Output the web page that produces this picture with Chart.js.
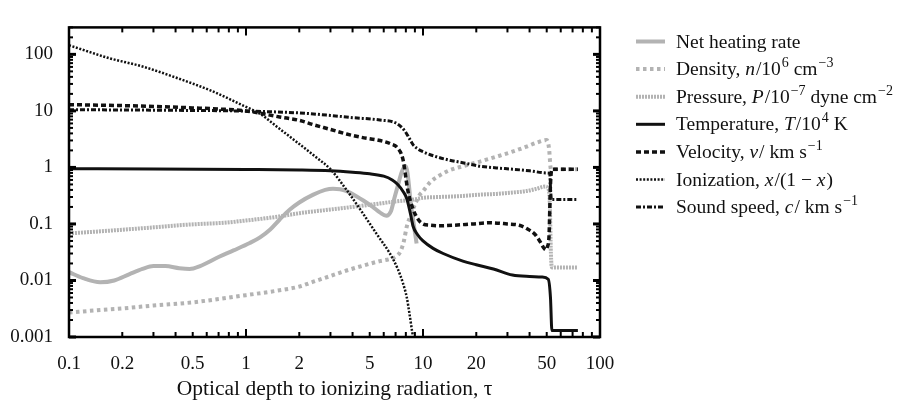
<!DOCTYPE html>
<html><head><meta charset="utf-8">
<script src="https://cdn.jsdelivr.net/npm/chart.js@4"></script>
<style>html,body{margin:0;padding:0;background:#fff;}canvas{display:block;}</style>
</head><body>
<canvas id="c" width="899" height="402"></canvas>
<script>
// ---- tick labels ----
const xTickValues = [0.1, 0.2, 0.5, 1, 2, 5, 10, 20, 50, 100];
const xTickLabels = ['0.1', '0.2', '0.5', '1', '2', '5', '10', '20', '50', '100'];
const yTickValues = [0.001, 0.01, 0.1, 1, 10, 100];
const yTickLabels = ['0.001', '0.01', '0.1', '1', '10', '100'];
const xTitle = 'Optical depth to ionizing radiation, τ';

// ---- series ----
const heatTau = [0.1, 0.12, 0.15, 0.18, 0.22, 0.26, 0.3, 0.35, 0.42, 0.48, 0.55, 0.7, 0.85, 1.05, 1.2, 1.37, 1.55, 1.77, 2.0, 2.4, 2.8, 3.1, 3.4, 3.7, 4.2, 4.6, 5.2, 5.7, 6.2, 6.6, 6.9, 7.3, 7.6, 8.0, 8.6, 9.2];
const heatVal = [0.014, 0.011, 0.0093, 0.01, 0.013, 0.016, 0.018, 0.018, 0.0165, 0.016, 0.018, 0.026, 0.034, 0.046, 0.058, 0.08, 0.12, 0.18, 0.24, 0.33, 0.4, 0.42, 0.41, 0.38, 0.31, 0.26, 0.2, 0.16, 0.14, 0.17, 0.29, 0.55, 0.85, 1.05, 0.19, 0.045];

const densTau = [0.1, 0.15, 0.2, 0.3, 0.5, 0.7, 1, 1.5, 2, 2.4, 3, 3.7, 4.5, 5.7, 6.5, 7.1, 7.5, 7.8, 8.1, 8.5, 9, 9.6, 10, 11, 12.4, 14, 16.8, 21, 26, 32, 38, 44, 50, 51.5, 52.8, 75];
const densVal = [0.0027, 0.003, 0.0032, 0.0036, 0.0041, 0.0047, 0.0055, 0.0066, 0.0078, 0.0095, 0.012, 0.015, 0.018, 0.022, 0.024, 0.027, 0.034, 0.05, 0.09, 0.14, 0.22, 0.33, 0.38, 0.55, 0.72, 0.88, 1.05, 1.27, 1.55, 1.9, 2.3, 2.75, 3.05, 2.2, 0.93, 0.93];

const presTau = [0.1, 0.15, 0.2, 0.3, 0.42, 0.55, 0.75, 1, 1.55, 2, 3, 4, 5.7, 7, 8.8, 10, 12.4, 16, 21, 26, 32, 38, 44, 49, 51, 52, 52.8, 53.5, 75];
const presVal = [0.068, 0.074, 0.079, 0.087, 0.095, 0.1, 0.105, 0.115, 0.136, 0.155, 0.18, 0.2, 0.23, 0.25, 0.27, 0.29, 0.3, 0.31, 0.33, 0.34, 0.36, 0.38, 0.42, 0.46, 0.42, 0.25, 0.03, 0.017, 0.017];

const tempTau = [0.1, 0.3, 1, 2, 3, 4, 5, 6, 6.7, 7.2, 7.7, 8.1, 8.5, 8.8, 9.3, 10, 11.4, 13, 16.8, 20, 25, 32, 40, 47, 51, 52.5, 53.5, 75];
const tempVal = [0.95, 0.94, 0.92, 0.9, 0.87, 0.82, 0.77, 0.7, 0.6, 0.5, 0.38, 0.28, 0.15, 0.09, 0.065, 0.05, 0.037, 0.03, 0.022, 0.019, 0.016, 0.0125, 0.0118, 0.0115, 0.0105, 0.005, 0.0013, 0.0013];

const veloTau = [0.1, 0.2, 0.3, 0.5, 0.7, 1, 1.55, 2, 2.4, 3, 3.7, 4.5, 5.7, 6.6, 7.2, 7.7, 8.2, 8.8, 9.4, 10, 11, 12.4, 15, 19, 24, 30, 35, 38.5, 43, 46, 48, 49.5, 50.5, 51.5, 52.5, 53.5, 75];
const veloVal = [12.9, 12.4, 12, 11.3, 10.8, 10, 7.8, 6.8, 5.7, 4.7, 3.9, 3.4, 3.0, 2.6, 2.2, 1.4, 0.4, 0.18, 0.12, 0.1, 0.095, 0.093, 0.095, 0.1, 0.105, 0.1, 0.095, 0.083, 0.065, 0.048, 0.038, 0.035, 0.04, 0.06, 0.5, 0.93, 0.93];

const ionTau = [0.1, 0.17, 0.26, 0.4, 0.63, 0.97, 1.2, 1.5, 2, 2.5, 3, 3.7, 4.6, 5.5, 6.5, 7.2, 7.7, 8.1, 8.4, 8.7, 8.85];
const ionVal = [145, 85, 61, 39, 23, 12.3, 8.9, 5.2, 2.6, 1.5, 0.93, 0.4, 0.15, 0.065, 0.03, 0.016, 0.009, 0.005, 0.0025, 0.0012, 0.0009];

const soundTau = [0.1, 0.3, 1, 2, 3, 4, 5.7, 7.1, 7.9, 8.4, 8.8, 9.4, 10, 11.5, 13.6, 17, 21, 26, 32, 40, 50, 52, 52.6, 53.2, 75];
const soundVal = [10.5, 10.3, 9.9, 9.2, 8.3, 7.6, 6.9, 6.0, 4.4, 3.2, 2.5, 2.1, 1.9, 1.6, 1.38, 1.2, 1.05, 0.98, 0.93, 0.87, 0.8, 0.78, 0.4, 0.27, 0.27];

// legend labels: _italic_, ^superscript^
const legendLabels = [
  'Net heating rate',
  'Density, _n_/10^6^ cm^−3^',
  'Pressure, _P_/10^−7^ dyne cm^−2^',
  'Temperature, _T_/10^4^ K',
  'Velocity, _v_/ km s^−1^',
  'Ionization, _x_/(1 − _x_)',
  'Sound speed, _c_/ km s^−1^'
];

const FONT = "'Liberation Serif', 'Times New Roman', serif";
const GRAY = '#b3b3b3';
const INK = '#111';

function pts(t, v) { return t.map((x, i) => ({ x: x, y: v[i] })); }

const datasets = [
  { label: legendLabels[0], data: pts(heatTau, heatVal), borderColor: GRAY, borderWidth: 4, borderDash: [], order: 5 },
  { label: legendLabels[1], data: pts(densTau, densVal), borderColor: GRAY, borderWidth: 4, borderDash: [3.5, 3.5], order: 6 },
  { label: legendLabels[2], data: pts(presTau, presVal), borderColor: GRAY, borderWidth: 4, borderDash: [2, 1], order: 4 },
  { label: legendLabels[3], data: pts(tempTau, tempVal), borderColor: INK, borderWidth: 3, borderDash: [], order: 1 },
  { label: legendLabels[4], data: pts(veloTau, veloVal), borderColor: INK, borderWidth: 3.5, borderDash: [5, 3], order: 2 },
  { label: legendLabels[5], data: pts(ionTau, ionVal), borderColor: INK, borderWidth: 2.5, borderDash: [2, 1.6], order: 3 },
  { label: legendLabels[6], data: pts(soundTau, soundVal), borderColor: INK, borderWidth: 3, borderDash: [5, 2, 2, 2], order: 0 }
];

const framePlugin = {
  id: 'frame',
  afterDatasetsDraw(chart) {
    const { ctx, chartArea: a, scales: { x, y } } = chart;
    ctx.save();
    ctx.strokeStyle = '#000';
    ctx.setLineDash([]);
    const seg = (x1, y1, x2, y2) => { ctx.beginPath(); ctx.moveTo(x1, y1); ctx.lineTo(x2, y2); ctx.stroke(); };
    ctx.lineWidth = 2;
    for (let e = -1; e <= 2; e++) {
      for (let m = 1; m <= 9; m++) {
        const v = m * Math.pow(10, e);
        if (v < x.min * 0.999 || v > x.max * 1.001) continue;
        const p = x.getPixelForValue(v);
        const L = m === 1 ? 8 : 5;
        seg(p, a.bottom, p, a.bottom - L);
        seg(p, a.top, p, a.top + L);
      }
    }
    for (let e = -3; e <= 2; e++) {
      for (let m = 1; m <= 9; m++) {
        const v = m * Math.pow(10, e);
        if (v < y.min * 0.999 || v > y.max * 1.001) continue;
        const p = y.getPixelForValue(v);
        const L = m === 1 ? 7 : 4;
        ctx.lineWidth = m === 1 ? 3 : 2;
        seg(a.left, p, a.left + L, p);
        seg(a.right, p, a.right - L, p);
      }
    }
    ctx.lineWidth = 2.5;
    ctx.strokeRect(a.left, a.top, a.right - a.left, a.bottom - a.top);
    ctx.restore();
  }
};

function parseLabel(s) {
  const parts = s.split(/(_[^_]+_|\^[^^]+\^)/).filter(p => p.length);
  return parts.map(p => {
    if (p[0] === '_') return { t: p.slice(1, -1), it: true };
    if (p[0] === '^') return { t: p.slice(1, -1), sup: true };
    return { t: p };
  });
}

const legendPlugin = {
  id: 'sideLegend',
  afterDraw(chart) {
    const { ctx, chartArea: a } = chart;
    const x0 = a.right + 36, x1 = a.right + 65, tx = a.right + 76;
    const top = 41.5, gap = 27.6;
    chart.data.datasets.forEach((ds, i) => {
      const yy = top + i * gap;
      ctx.save();
      ctx.strokeStyle = ds.borderColor;
      ctx.lineWidth = ds.borderWidth;
      ctx.setLineDash(ds.borderDash || []);
      ctx.beginPath(); ctx.moveTo(x0, yy); ctx.lineTo(x1, yy); ctx.stroke();
      ctx.restore();
      ctx.save();
      ctx.fillStyle = INK;
      ctx.textBaseline = 'alphabetic';
      let xx = tx;
      const base = yy + 6;
      parseLabel(ds.label).forEach(sg => {
        if (sg.sup) { ctx.font = '14px ' + FONT; ctx.fillText(sg.t, xx + 1, base - 8); xx += ctx.measureText(sg.t).width + 1; }
        else if (sg.it) { ctx.font = 'italic 19.5px ' + FONT; ctx.fillText(sg.t, xx, base); xx += ctx.measureText(sg.t).width + 1; }
        else { ctx.font = '19.5px ' + FONT; ctx.fillText(sg.t, xx, base); xx += ctx.measureText(sg.t).width; }
      });
      ctx.restore();
    });
  }
};

new Chart(document.getElementById('c'), {
  type: 'line',
  data: { datasets: datasets },
  options: {
    responsive: false,
    animation: false,
    devicePixelRatio: 1,
    layout: { padding: { left: 0, right: 299, top: 11, bottom: 0 } },
    elements: { point: { radius: 0 }, line: { cubicInterpolationMode: 'monotone', fill: false, borderCapStyle: 'butt' } },
    plugins: { legend: { display: false }, tooltip: { enabled: false } },
    scales: {
      x: {
        type: 'logarithmic', min: 0.1, max: 100,
        afterFit: s => { s.height = 65; },
        afterBuildTicks: s => { s.ticks = xTickValues.map(v => ({ value: v })); },
        grid: { display: false, drawTicks: false },
        border: { display: false },
        ticks: {
          autoSkip: false, maxRotation: 0, padding: 16, color: INK,
          font: { family: FONT, size: 19 },
          callback: (v) => { const i = xTickValues.indexOf(v); return i >= 0 ? xTickLabels[i] : ''; }
        },
        title: { display: true, text: xTitle, color: INK, font: { family: FONT, size: 21.5 }, padding: { top: 0, bottom: 0 } }
      },
      y: {
        type: 'logarithmic', min: 0.001, max: 300,
        afterFit: s => { s.width = 69; },
        afterBuildTicks: s => { s.ticks = yTickValues.map(v => ({ value: v })); },
        grid: { display: false, drawTicks: false },
        border: { display: false },
        ticks: {
          autoSkip: false, padding: 16, color: INK,
          font: { family: FONT, size: 19 },
          callback: (v) => { const i = yTickValues.indexOf(v); return i >= 0 ? yTickLabels[i] : ''; }
        }
      }
    }
  },
  plugins: [framePlugin, legendPlugin]
});
</script>
</body></html>
